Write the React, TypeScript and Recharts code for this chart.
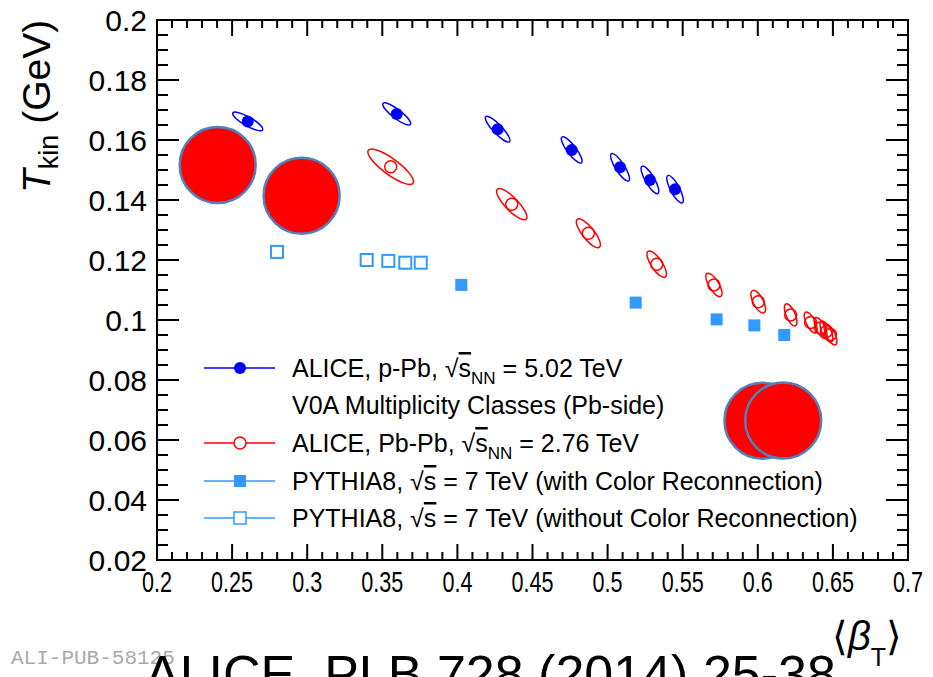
import { ScatterChart, Scatter, XAxis, YAxis, Legend } from 'recharts';

const FONT = "'Liberation Sans', Arial, Helvetica, sans-serif";
const BLUE = '#0000ff';
const RED = '#ff0000';
const SKY = '#3399ff';

// ALICE p-Pb 5.02 TeV (V0A classes): <beta_T>, T_kin, contour half-widths and correlation
const PPB_BETA = [0.2604, 0.3596, 0.4268, 0.4761, 0.5083, 0.5282, 0.5449];
const PPB_TKIN = [0.1662, 0.1687, 0.1636, 0.1567, 0.1509, 0.1467, 0.1436];
const PPB_SBETA = [0.01, 0.0093, 0.0082, 0.0069, 0.0063, 0.0059, 0.0055];
const PPB_STKIN = [0.0031, 0.0037, 0.0043, 0.0044, 0.0046, 0.0046, 0.0046];
const PPB_RHO = [-0.835, -0.864, -0.871, -0.847, -0.83, -0.812, -0.794];

// ALICE Pb-Pb 2.76 TeV
const PBPB_BETA = [0.3556, 0.4362, 0.4872, 0.5327, 0.5708, 0.6003, 0.6219, 0.6352, 0.6418, 0.6457, 0.6484];
const PBPB_TKIN = [0.1511, 0.1386, 0.1289, 0.1186, 0.1117, 0.1061, 0.1017, 0.0992, 0.0973, 0.0962, 0.0952];
const PBPB_SBETA = [0.0152, 0.0101, 0.008, 0.0065, 0.0054, 0.0049, 0.0042, 0.0043, 0.0043, 0.0043, 0.0043];
const PBPB_STKIN = [0.0059, 0.0052, 0.0048, 0.0044, 0.0039, 0.0038, 0.0037, 0.0035, 0.0035, 0.0035, 0.0035];
const PBPB_RHO = [-0.837, -0.82, -0.788, -0.751, -0.713, -0.655, -0.64, -0.652, -0.652, -0.652, -0.652];

// PYTHIA8 pp 7 TeV
const CR_BETA = [0.4026, 0.5187, 0.5726, 0.5977, 0.6176];
const CR_TKIN = [0.1117, 0.1058, 0.1002, 0.0982, 0.095];
const NOCR_BETA = [0.2799, 0.3396, 0.354, 0.3653, 0.3756];
const NOCR_TKIN = [0.1227, 0.12, 0.1197, 0.1191, 0.1191];

// nucleus cartoons
const NUCLEUS_BETA = [0.2404, 0.2963, 0.6031, 0.6169];
const NUCLEUS_TKIN = [0.1517, 0.1414, 0.0664, 0.0665];

const X_MAJOR = [0.2, 0.25, 0.3, 0.35, 0.4, 0.45, 0.5, 0.55, 0.6, 0.65, 0.7];
const Y_MAJOR = [0.02, 0.04, 0.06, 0.08, 0.1, 0.12, 0.14, 0.16, 0.18, 0.2];

const W = 933;
const H = 677;
// plot box 157..908 x 20..560; every axis takes 1px of it
const MARGIN = { top: 19, right: 24, bottom: 116, left: 156 };
const PLOT_W = 908 - 157;
const PLOT_H = 560 - 20;
const X_DOMAIN: [number, number] = [0.2, 0.7];
const Y_DOMAIN: [number, number] = [0.02, 0.2];
const KX = PLOT_W / (X_DOMAIN[1] - X_DOMAIN[0]);
const KY = PLOT_H / (Y_DOMAIN[1] - Y_DOMAIN[0]);

function subdivide(major: number[], n: number) {
  const out: number[] = [];
  for (let i = 0; i < major.length - 1; i++) {
    for (let k = 0; k < n; k++) out.push(+(major[i] + ((major[i + 1] - major[i]) * k) / n).toFixed(4));
  }
  out.push(major[major.length - 1]);
  return out;
}
const X_TICKS = subdivide(X_MAJOR, 5);
const Y_TICKS = subdivide(Y_MAJOR, 4);
const isMajor = (list: number[], v: number) => list.some((m) => Math.abs(m - v) < 1e-6);

const withContour = (bx: number[], ty: number[], sx: number[], sy: number[], rho: number[]) =>
  bx.map((x, i) => ({ x, y: ty[i], sx: sx[i], sy: sy[i], rho: rho[i] }));
const points = (bx: number[], ty: number[]) => bx.map((x, i) => ({ x, y: ty[i] }));

const ppbData = withContour(PPB_BETA, PPB_TKIN, PPB_SBETA, PPB_STKIN, PPB_RHO);
const pbpbData = withContour(PBPB_BETA, PBPB_TKIN, PBPB_SBETA, PBPB_STKIN, PBPB_RHO);
const crData = points(CR_BETA, CR_TKIN);
const nocrData = points(NOCR_BETA, NOCR_TKIN);
const nucleusData = points(NUCLEUS_BETA, NUCLEUS_TKIN);

// error contour in pixels (y axis is flipped on screen)
function contour(sx: number, sy: number, rho: number) {
  const SX = sx * KX;
  const SY = sy * KY;
  const A = SX * SX;
  const D = SY * SY;
  const B = -rho * SX * SY;
  const h = (A - D) / 2;
  const r = Math.sqrt(h * h + B * B);
  const m = (A + D) / 2;
  return {
    rx: Math.sqrt(m + r),
    ry: Math.sqrt(Math.max(m - r, 0)),
    deg: (0.5 * Math.atan2(2 * B, A - D) * 180) / Math.PI,
  };
}

function ContourPoint({ cx, cy, payload, color, open }: any) {
  const e = contour(payload.sx, payload.sy, payload.rho);
  return (
    <g>
      <ellipse cx={cx} cy={cy} rx={e.rx} ry={e.ry} transform={`rotate(${e.deg} ${cx} ${cy})`} fill="none" stroke={color} strokeWidth={1.5} />
      {open ? (
        <circle cx={cx} cy={cy} r={6} fill="none" stroke={color} strokeWidth={1.5} />
      ) : (
        <circle cx={cx} cy={cy} r={6} fill={color} />
      )}
    </g>
  );
}

function SquarePoint({ cx, cy, open }: any) {
  return open ? (
    <rect x={cx - 6} y={cy - 6} width={12} height={12} fill="none" stroke={SKY} strokeWidth={2} />
  ) : (
    <rect x={cx - 6} y={cy - 6} width={12} height={12} fill={SKY} />
  );
}

function Nucleus({ cx, cy }: any) {
  return <circle cx={cx} cy={cy} r={38} fill={RED} stroke="#4f81bd" strokeWidth={2.5} />;
}

function BottomTick({ x, y, payload }: any) {
  const major = isMajor(X_MAJOR, payload.value);
  return (
    <g>
      <line x1={x} y1={y} x2={x} y2={y - (major ? 16 : 8)} stroke="#000" strokeWidth={2} />
      {major && (
        <text transform={`translate(${x},${y + 32}) scale(0.72,1)`} textAnchor="middle" fontSize={30} fill="#000">
          {String(payload.value)}
        </text>
      )}
    </g>
  );
}

function TopTick({ x, y, payload }: any) {
  const major = isMajor(X_MAJOR, payload.value);
  return <line x1={x} y1={y} x2={x} y2={y + (major ? 16 : 8)} stroke="#000" strokeWidth={2} />;
}

function LeftTick({ x, y, payload }: any) {
  const major = isMajor(Y_MAJOR, payload.value);
  return (
    <g>
      <line x1={x} y1={y} x2={x + (major ? 22 : 11)} y2={y} stroke="#000" strokeWidth={2} />
      {major && (
        <text x={x - 10} y={y + 11} textAnchor="end" fontSize={30} fill="#000">
          {String(payload.value)}
        </text>
      )}
    </g>
  );
}

function RightTick({ x, y, payload }: any) {
  const major = isMajor(Y_MAJOR, payload.value);
  return <line x1={x} y1={y} x2={x - (major ? 22 : 11)} y2={y} stroke="#000" strokeWidth={2} />;
}

function YTitle() {
  return (
    <text transform="translate(50,193) rotate(-90)" fontSize={39} fill="#000">
      <tspan fontStyle="italic">T</tspan>
      <tspan fontSize={27} dy={8}>kin</tspan>
      <tspan dy={-8}> (GeV)</tspan>
    </text>
  );
}

function XTitle() {
  return (
    <text x={832} y={650} fontSize={40} fill="#000">
      {'\u27E8'}
      <tspan fontStyle="italic">{'\u03B2'}</tspan>
      <tspan fontSize={25} dy={16}>T</tspan>
      <tspan dy={-16}>{'\u27E9'}</tspan>
    </text>
  );
}

const ROWS = [368, 405, 443, 481, 518];

function Sqrt({ s, sub }: { s: string; sub?: string }) {
  return (
    <>
      <tspan>{'\u221A'}</tspan>
      <tspan textDecoration="overline">{s}</tspan>
      {sub && (
        <tspan fontSize={17} dy={7}>
          {sub}
        </tspan>
      )}
    </>
  );
}

function Overlay() {
  const lx1 = 204;
  const lx2 = 275;
  const mx = 240;
  return (
    <svg width={W} height={H} style={{ position: 'absolute', left: 0, top: 0, fontFamily: FONT }}>
      <g fontSize={25} fill="#000">
        <line x1={lx1} x2={lx2} y1={ROWS[0]} y2={ROWS[0]} stroke={BLUE} strokeWidth={1.5} />
        <circle cx={mx} cy={ROWS[0]} r={6} fill={BLUE} />
        <text x={292} y={ROWS[0] + 9}>
          ALICE, p-Pb, <Sqrt s="s" sub="NN" />
          <tspan dy={-7}> = 5.02 TeV</tspan>
        </text>
        <text x={292} y={ROWS[1] + 9}>V0A Multiplicity Classes (Pb-side)</text>

        <line x1={lx1} x2={lx2} y1={ROWS[2]} y2={ROWS[2]} stroke={RED} strokeWidth={1.5} />
        <circle cx={mx} cy={ROWS[2]} r={6} fill="#fff" stroke={RED} strokeWidth={1.5} />
        <text x={292} y={ROWS[2] + 9}>
          ALICE, Pb-Pb, <Sqrt s="s" sub="NN" />
          <tspan dy={-7}> = 2.76 TeV</tspan>
        </text>

        <line x1={lx1} x2={lx2} y1={ROWS[3]} y2={ROWS[3]} stroke={SKY} strokeWidth={1.5} />
        <rect x={mx - 6} y={ROWS[3] - 6} width={12} height={12} fill={SKY} />
        <text x={292} y={ROWS[3] + 9}>
          PYTHIA8, <Sqrt s="s" /> = 7 TeV (with Color Reconnection)
        </text>

        <line x1={lx1} x2={lx2} y1={ROWS[4]} y2={ROWS[4]} stroke={SKY} strokeWidth={1.5} />
        <rect x={mx - 6} y={ROWS[4] - 6} width={12} height={12} fill="#fff" stroke={SKY} strokeWidth={1.5} />
        <text x={292} y={ROWS[4] + 9}>
          PYTHIA8, <Sqrt s="s" /> = 7 TeV (without Color Reconnection)
        </text>
      </g>
      <text x={11} y={664} fontSize={21} fill="#aaaaaa" fontFamily="'Liberation Mono', 'DejaVu Sans Mono', monospace">
        ALI-PUB-58125
      </text>
      <text x={145} y={692} fontSize={52} fill="#000">
        ALICE, PLB 728 (2014) 25-38
      </text>
    </svg>
  );
}

const axisLine = { stroke: '#000', strokeWidth: 2, strokeLinecap: 'square' as const };

export default function App() {
  return (
    <div style={{ position: 'absolute', left: 0, top: 0, width: W, height: H, background: '#fff' }}>
      <ScatterChart width={W} height={H} margin={MARGIN} style={{ fontFamily: FONT }}>
        <XAxis xAxisId="b" type="number" dataKey="x" domain={X_DOMAIN} allowDataOverflow ticks={X_TICKS} interval={0}
          height={1} tickSize={0} tickMargin={0} tickLine={false} axisLine={axisLine}
          tick={(p: any) => <BottomTick {...p} />} label={<XTitle />} />
        <XAxis xAxisId="t" orientation="top" type="number" dataKey="x" domain={X_DOMAIN} allowDataOverflow ticks={X_TICKS} interval={0}
          height={1} tickSize={0} tickMargin={0} tickLine={false} axisLine={axisLine}
          tick={(p: any) => <TopTick {...p} />} />
        <YAxis yAxisId="l" type="number" dataKey="y" domain={Y_DOMAIN} allowDataOverflow ticks={Y_TICKS} interval={0}
          width={1} tickSize={0} tickMargin={0} tickLine={false} axisLine={axisLine}
          tick={(p: any) => <LeftTick {...p} />} label={<YTitle />} />
        <YAxis yAxisId="r" orientation="right" type="number" dataKey="y" domain={Y_DOMAIN} allowDataOverflow ticks={Y_TICKS} interval={0}
          width={1} tickSize={0} tickMargin={0} tickLine={false} axisLine={axisLine}
          tick={(p: any) => <RightTick {...p} />} />
        <Scatter xAxisId="b" yAxisId="l" data={nucleusData} isAnimationActive={false} shape={(p: any) => <Nucleus {...p} />} />
        <Scatter xAxisId="b" yAxisId="l" data={nocrData} isAnimationActive={false} shape={(p: any) => <SquarePoint {...p} open />} />
        <Scatter xAxisId="b" yAxisId="l" data={crData} isAnimationActive={false} shape={(p: any) => <SquarePoint {...p} />} />
        <Scatter xAxisId="b" yAxisId="l" data={pbpbData} isAnimationActive={false} shape={(p: any) => <ContourPoint {...p} color={RED} open />} />
        <Scatter xAxisId="b" yAxisId="l" data={ppbData} isAnimationActive={false} shape={(p: any) => <ContourPoint {...p} color={BLUE} />} />
        <Legend layout="vertical" verticalAlign="middle" align="center" content={() => <Overlay />}
          wrapperStyle={{ left: 0, top: 0, width: W, height: H, pointerEvents: 'none' }} />
      </ScatterChart>
    </div>
  );
}
